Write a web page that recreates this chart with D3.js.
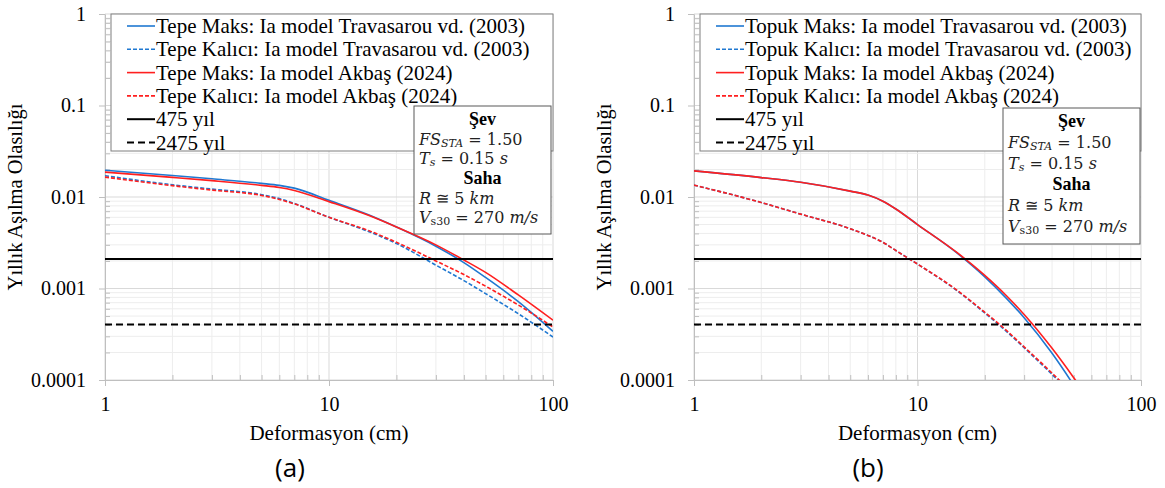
<!DOCTYPE html>
<html>
<head>
<meta charset="UTF-8">
<title>Yıllık Aşılma Olasılığı</title>
<script src="https://cdnjs.cloudflare.com/ajax/libs/d3/7.8.5/d3.min.js"></script>
<style>
  body { margin: 0; background: #fff; }
  svg text { fill: #000; }
</style>
</head>
<body>
<svg id="chart" width="1165" height="488"></svg>
<script>
// tick values / labels
const yTicks = [0.0001, 0.001, 0.01, 0.1, 1];
const yTickLabels = ["0.0001", "0.001", "0.01", "0.1", "1"];
const xTicks = [1, 10, 100];
const xTickLabels = ["1", "10", "100"];

// return period lines
const rp475 = 1 / 475;
const rp2475 = 1 / 2475;

// (a) Tepe
const tepeX = [1, 2, 3, 5, 6, 7, 10, 15, 20, 30, 40, 50, 70, 100];
const tepeMaksTrav = [0.0196, 0.0172, 0.0158, 0.0141, 0.0134, 0.0125, 0.0092, 0.0064, 0.0047, 0.0029, 0.00192, 0.00132, 0.00072, 0.00034];
const tepeKaliciTrav = [0.0171, 0.0136, 0.0122, 0.0106, 0.0096, 0.0085, 0.0060, 0.0042, 0.0031, 0.0018, 0.00122, 0.00088, 0.00053, 0.000295];
const tepeMaksAkbas = [0.0187, 0.0164, 0.0151, 0.0134, 0.0127, 0.0118, 0.0089, 0.0063, 0.0047, 0.0030, 0.00205, 0.0015, 0.00085, 0.00045];
const tepeKaliciAkbas = [0.0165, 0.0133, 0.0119, 0.0104, 0.0094, 0.0084, 0.0060, 0.0043, 0.0032, 0.0020, 0.00142, 0.00106, 0.00066, 0.00038];

// (b) Topuk
const topukX = [1, 2, 3, 5, 6, 7, 8, 10, 15, 20, 25, 30, 40, 50, 60];
const topukMaksTrav = [0.0193, 0.0163, 0.0145, 0.0116, 0.0105, 0.0090, 0.0074, 0.0050, 0.00245, 0.00134, 0.00078, 0.00048, 0.000196, 0.0000877, 0.000043];
const topukKaliciTrav = [0.0135, 0.0087, 0.0065, 0.0045, 0.0038, 0.0032, 0.0026, 0.00185, 0.00095, 0.00054, 0.00034, 0.000225, 0.000115, 0.000066, 0.00004];
const topukMaksAkbas = [0.0193, 0.0163, 0.0145, 0.0116, 0.0105, 0.0090, 0.0074, 0.0050, 0.00248, 0.00139, 0.000834, 0.00052, 0.000222, 0.000106, 0.000056];
const topukKaliciAkbas = [0.0135, 0.0087, 0.0065, 0.0045, 0.0038, 0.0032, 0.0026, 0.00185, 0.00096, 0.00055, 0.000348, 0.00023, 0.000119, 0.000069, 0.000042];

const tepeNames = ["Tepe Maks: Ia model Travasarou vd. (2003)", "Tepe Kalıcı: Ia model Travasarou vd. (2003)",
  "Tepe Maks: Ia model Akbaş (2024)", "Tepe Kalıcı: Ia model Akbaş (2024)", "475 yıl", "2475 yıl"];
const topukNames = ["Topuk Maks: Ia model Travasarou vd. (2003)", "Topuk Kalıcı: Ia model Travasarou vd. (2003)",
  "Topuk Maks: Ia model Akbaş (2024)", "Topuk Kalıcı: Ia model Akbaş (2024)", "475 yıl", "2475 yıl"];

const blue = "#1f78d1", red = "#ff1f1f";
const serif = "'Liberation Serif', 'Times New Roman', serif";
const mathFont = "'DejaVu Serif', serif";
const plotTop = 14, plotBottom = 380;

const panels = [
  { id: "a", x0: 105, x1: 553, xs: tepeX, series: [tepeMaksTrav, tepeKaliciTrav, tepeMaksAkbas, tepeKaliciAkbas],
    names: tepeNames, label: "(a)", labelX: 290, legend: [111, 553, 151], box: [414, 106, 551, 234] },
  { id: "b", x0: 694, x1: 1141, xs: topukX, series: [topukMaksTrav, topukKaliciTrav, topukMaksAkbas, topukKaliciAkbas],
    names: topukNames, label: "(b)", labelX: 868, legend: [700, 1141, 151], box: [1003, 108, 1140, 244] }
];

const styles = [
  { color: blue, dash: null, w: 1.6 },
  { color: blue, dash: "4,2", w: 1.6 },
  { color: red, dash: null, w: 1.6 },
  { color: red, dash: "4,2", w: 1.6 },
  { color: "#000", dash: null, w: 2 },
  { color: "#000", dash: "7,4", w: 2 }
];

const svg = d3.select("#chart");

panels.forEach(p => {
  const x = d3.scaleLog().domain([1, 100]).range([p.x0, p.x1]);
  const y = d3.scaleLog().domain([0.0001, 1]).range([plotBottom, plotTop]);
  const g = svg.append("g");

  // gridlines
  const xAll = x.ticks(), yAll = y.ticks();
  const isMajorY = d => yTicks.some(t => Math.abs(t - d) / t < 1e-6);
  g.selectAll(".gx").data(xAll).enter().append("line")
    .attr("x1", d => x(d)).attr("x2", d => x(d)).attr("y1", plotTop).attr("y2", plotBottom)
    .attr("stroke", d => xTicks.includes(d) ? "#d9d9d9" : "#ededed").attr("stroke-width", 1);
  g.selectAll(".gy").data(yAll).enter().append("line")
    .attr("y1", d => y(d)).attr("y2", d => y(d)).attr("x1", p.x0).attr("x2", p.x1)
    .attr("stroke", d => isMajorY(d) ? "#d9d9d9" : "#ededed").attr("stroke-width", 1);

  // axes
  const xAxis = g.append("g").attr("transform", "translate(0," + plotBottom + ")")
    .call(d3.axisBottom(x).tickValues(xAll).tickSizeOuter(0)
      .tickFormat(d => { const i = xTicks.indexOf(d); return i >= 0 ? xTickLabels[i] : ""; }));
  xAxis.select(".domain").attr("stroke", "#bfbfbf");
  xAxis.selectAll(".tick line").attr("stroke", "#bfbfbf").attr("y2", d => xTicks.includes(d) ? 6 : -5);
  xAxis.selectAll(".tick text").attr("y", 17).attr("font-size", 20).style("font-family", serif).attr("fill", "#000");

  const yAxis = g.append("g").attr("transform", "translate(" + p.x0 + ",0)")
    .call(d3.axisLeft(y).tickValues(yAll).tickSizeOuter(0)
      .tickFormat(d => { const i = yTicks.findIndex(t => Math.abs(t - d) / t < 1e-6); return i >= 0 ? yTickLabels[i] : ""; }));
  yAxis.select(".domain").attr("stroke", "#bfbfbf");
  yAxis.selectAll(".tick line").attr("stroke", "#bfbfbf").attr("x2", d => isMajorY(d) ? -6 : 5);
  yAxis.selectAll(".tick text").attr("x", -19).attr("font-size", 20).style("font-family", serif).attr("fill", "#000");

  // axis titles
  g.append("text").attr("x", (p.x0 + p.x1) / 2).attr("y", 440).attr("text-anchor", "middle")
    .attr("font-size", 21).style("font-family", serif).text("Deformasyon (cm)");
  g.append("text").attr("transform", "translate(" + (p.x0 - 83) + "," + ((plotTop + plotBottom) / 2) + ") rotate(-90)")
    .attr("text-anchor", "middle").attr("font-size", 20.5).style("font-family", serif).text("Yıllık Aşılma Olasılığı");
  g.append("text").attr("x", p.labelX).attr("y", 477).attr("text-anchor", "middle")
    .attr("font-size", 26).style("font-family", "'Open Sans', sans-serif").text(p.label);

  // clip
  svg.append("clipPath").attr("id", "clip-" + p.id).append("rect")
    .attr("x", p.x0).attr("y", plotTop).attr("width", p.x1 - p.x0).attr("height", plotBottom - plotTop);

  const line = d3.line().x(d => x(d[0])).y(d => y(d[1])).curve(d3.curveMonotoneX);

  // legend box (above grid)
  const [lx0, lx1, ly1] = p.legend;
  g.append("rect").attr("x", lx0).attr("y", plotTop).attr("width", lx1 - lx0).attr("height", ly1 - plotTop)
    .attr("fill", "#fff").attr("stroke", "#7f7f7f").attr("stroke-width", 1);

  const plot = g.append("g").attr("clip-path", "url(#clip-" + p.id + ")");
  p.series.forEach((s, i) => {
    plot.append("path").datum(p.xs.map((xv, j) => [xv, s[j]]))
      .attr("d", line).attr("fill", "none")
      .attr("stroke", styles[i].color).attr("stroke-width", styles[i].w)
      .attr("stroke-dasharray", styles[i].dash);
  });
  [rp475, rp2475].forEach((v, k) => {
    plot.append("line").attr("x1", p.x0).attr("x2", p.x1).attr("y1", y(v)).attr("y2", y(v))
      .attr("stroke", "#000").attr("stroke-width", 2).attr("stroke-dasharray", styles[4 + k].dash);
  });

  // legend entries
  p.names.forEach((n, i) => {
    const yy = 26 + i * 23.3;
    g.append("line").attr("x1", lx0 + 16).attr("x2", lx0 + 44).attr("y1", yy).attr("y2", yy)
      .attr("stroke", styles[i].color).attr("stroke-width", styles[i].w)
      .attr("stroke-dasharray", styles[i].dash);
    g.append("text").attr("x", lx0 + 45).attr("y", yy + 7).attr("font-size", 21)
      .style("font-family", serif).text(n);
  });

  // annotation box
  const [bx0, by0, bx1, by1] = p.box;
  g.append("rect").attr("x", bx0).attr("y", by0).attr("width", bx1 - bx0).attr("height", by1 - by0)
    .attr("fill", "#fff").attr("stroke", "#595959").attr("stroke-width", 1);
  const step = (by1 - by0 - 10) / 6;
  const rowY = i => by0 + 19 + i * step;
  const cx = (bx0 + bx1) / 2, tx = bx0 + 5;
  const mrow = i => g.append("text").attr("x", tx).attr("y", rowY(i)).attr("font-size", 16)
    .style("font-family", mathFont).style("fill", "#222");
  g.append("text").attr("x", cx).attr("y", rowY(0)).attr("text-anchor", "middle")
    .attr("font-size", 18).attr("font-weight", "bold").style("font-family", serif).text("Şev");
  const t1 = mrow(1);
  t1.append("tspan").attr("font-style", "italic").text("FS");
  t1.append("tspan").attr("font-style", "italic").attr("font-size", 11).attr("dy", 2).text("STA");
  t1.append("tspan").attr("dy", -2).text(" = 1.50");
  const t2 = mrow(2);
  t2.append("tspan").attr("font-style", "italic").text("T");
  t2.append("tspan").attr("font-style", "italic").attr("font-size", 11).attr("dy", 2).text("s");
  t2.append("tspan").attr("dy", -2).text(" = 0.15 ");
  t2.append("tspan").attr("font-style", "italic").text("s");
  g.append("text").attr("x", cx).attr("y", rowY(3)).attr("text-anchor", "middle")
    .attr("font-size", 18).attr("font-weight", "bold").style("font-family", serif).text("Saha");
  const t4 = mrow(4);
  t4.append("tspan").attr("font-style", "italic").text("R");
  t4.append("tspan").text(" ≅ 5 ");
  t4.append("tspan").attr("font-style", "italic").text("km");
  const t5 = mrow(5);
  t5.append("tspan").attr("font-style", "italic").text("V");
  t5.append("tspan").attr("font-size", 11).attr("dy", 2).text("s30");
  t5.append("tspan").attr("dy", -2).text(" = 270 ");
  t5.append("tspan").attr("font-style", "italic").text("m/s");
});
</script>
</body>
</html>
